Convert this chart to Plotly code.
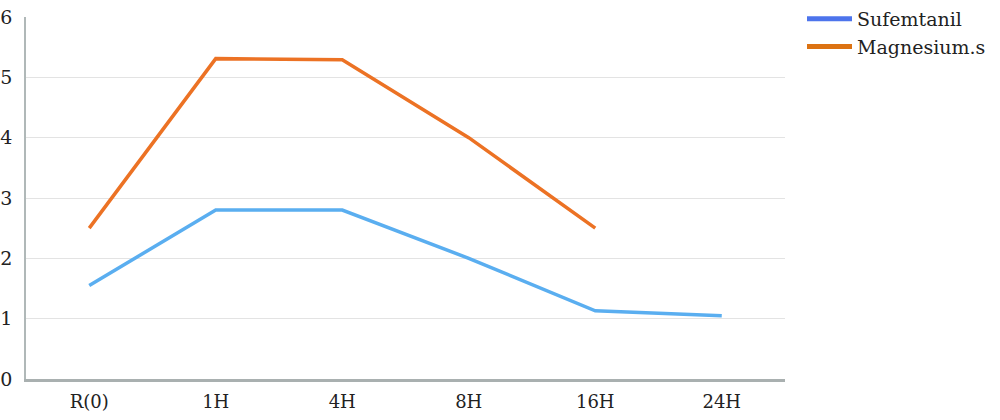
import plotly.graph_objects as go

categories = ["R(0)", "1H", "4H", "8H", "16H", "24H"]
sufemtanil = [1.55, 2.80, 2.80, 2.00, 1.13, 1.05]
magnesium = [2.50, 5.31, 5.29, 4.00, 2.50, None]

series_names = ["Sufemtanil", "Magnesium.s"]
line_colors = ["#5aaef0", "#ec7224"]
legend_colors = ["#4d74ec", "#dc7212"]

fig = go.Figure()
for name, vals, col in zip(series_names, [sufemtanil, magnesium], line_colors):
    fig.add_trace(go.Scatter(x=categories, y=vals, mode="lines", name=name,
                             showlegend=False, line=dict(color=col, width=3.5)))
# legend keys (the reference uses slightly different key colours)
for name, col in zip(series_names, legend_colors):
    fig.add_trace(go.Scatter(x=[None], y=[None], mode="lines", name=name,
                             line=dict(color=col, width=5), hoverinfo="skip"))

font_fam = "DejaVu Serif, Liberation Serif, serif"
fig.update_layout(
    width=1000, height=420,
    margin=dict(l=26, r=215, t=17, b=41),
    paper_bgcolor="white", plot_bgcolor="white",
    font=dict(family=font_fam, size=18, color="#222222"),
    showlegend=True,
    legend=dict(x=0.802, y=1.018, xref="container", yref="container",
                xanchor="left", yanchor="top",
                font=dict(family=font_fam, size=19, color="#222222"),
                bgcolor="rgba(0,0,0,0)", tracegroupgap=0, itemwidth=45),
    xaxis=dict(type="category", range=[-0.5, 5.5], showgrid=False, automargin=False,
               showline=True, linecolor="#a9b0b0", linewidth=2.5,
               ticks="", ticklabelstandoff=5,
               tickfont=dict(family=font_fam, size=18, color="#222222")),
    yaxis=dict(range=[0, 6], dtick=1, showgrid=True, gridcolor="#e3e3e3", gridwidth=1,
               showline=True, linecolor="#b0b8b8", linewidth=1.5, zeroline=False,
               ticks="", ticklabelstandoff=8, automargin=False,
               tickfont=dict(family=font_fam, size=19, color="#222222")),
)
fig.write_html("out.html", config={"displayModeBar": False},
               post_script="document.body.style.margin='0';document.body.style.overflow='hidden';")
